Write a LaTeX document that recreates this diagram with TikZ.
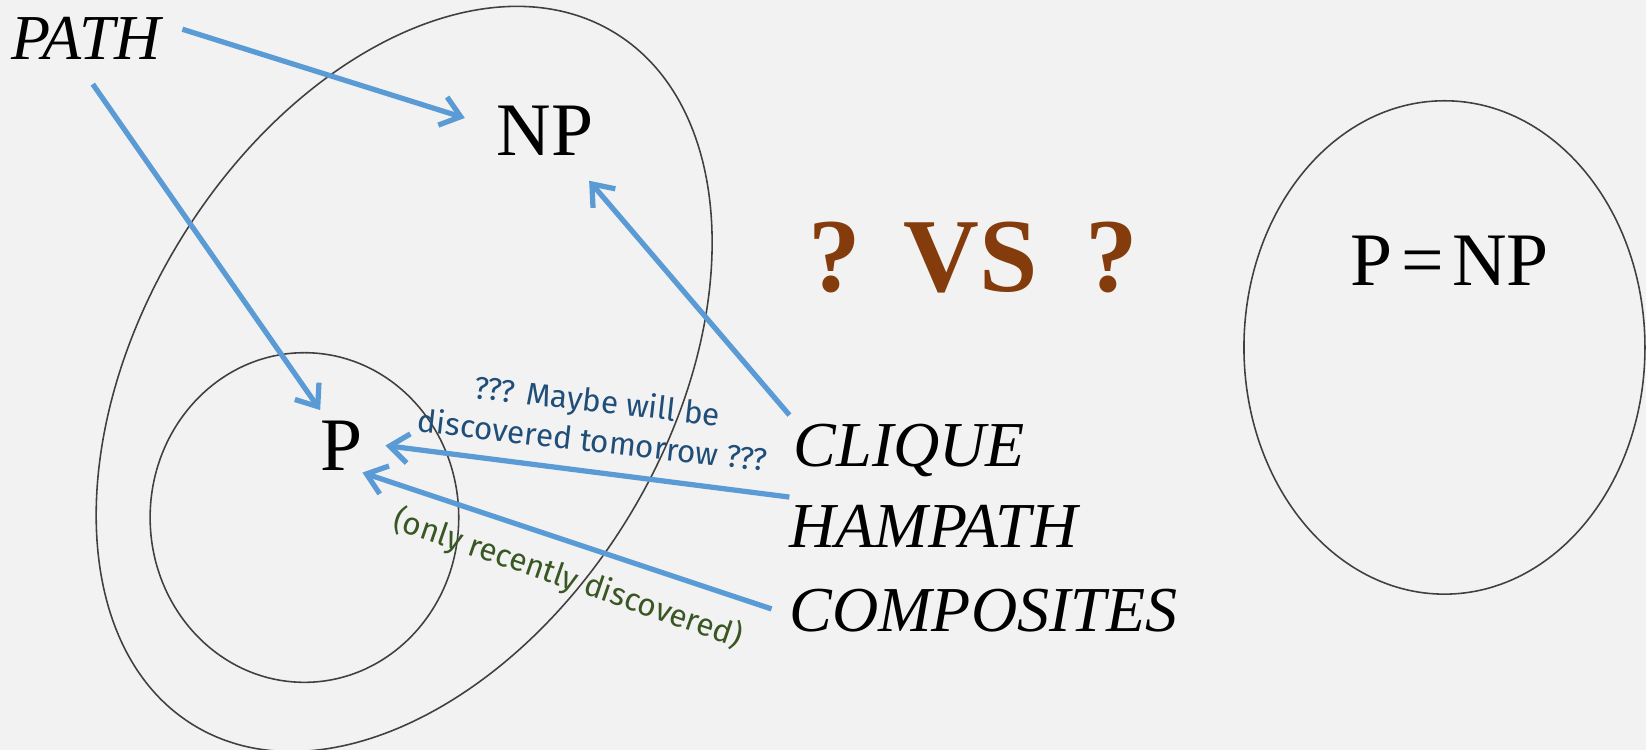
\documentclass[tikz,border=0pt]{standalone}
\usepackage{fontspec}
\setmainfont{Liberation Serif}
\newfontfamily\notefont{Fira Sans}
\usetikzlibrary{arrows.meta, calc}
\definecolor{bgcolor}{HTML}{F2F2F2}
\definecolor{arrowblue}{HTML}{5B9BD5}
\definecolor{setgray}{HTML}{404040}
\definecolor{noteblue}{HTML}{1F4E79}
\definecolor{notegreen}{HTML}{385723}
\definecolor{vsbrown}{HTML}{843C0C}

\begin{document}
\begin{tikzpicture}[x=1pt, y=1pt,
  word/.style={inner sep=0pt, font=\fontsize{61}{61}\selectfont\itshape},
  cls/.style={inner sep=0pt, font=\fontsize{72}{72}\selectfont},
  vsword/.style={inner sep=0pt, text=vsbrown, font=\fontsize{100}{100}\selectfont\bfseries},
  note/.style={inner sep=0pt, align=center, font=\notefont\fontsize{30}{38}\selectfont},
  arr/.style={-{Straight Barb[length=18pt, width=28pt]}, line width=5pt, color=arrowblue},
  set/.style={draw=setgray, line width=1.5pt}]
\fill[bgcolor] (0,0) rectangle (1568,714);
\useasboundingbox (0,0) rectangle (1568,714);
\draw[set, rotate around={58.8:(385,353)}] (385,353) ellipse [x radius=386, y radius=251];
\draw[set] (290,221) ellipse [x radius=147, y radius=157];
\draw[set] (1376,383) ellipse [x radius=191, y radius=235];
\node[word, anchor=base west] (path) at (11,657) {PATH};
\node[cls, anchor=base] (np) at (519,566) {NP};
\node[cls, anchor=base] (p) at (325,266) {P};
\node[word, anchor=base west] (clique) at (756,270) {CLIQUE};
\node[word, anchor=base west] (hampath) at (752,192) {HAMPATH};
\node[word, anchor=base west] (composites) at (752,112) {COMPOSITES};
\node[cls, anchor=base] (pnp) at (1381,442) {P\kern8pt=\kern8pt NP};
\node[vsword, anchor=base] (q1) at (795,436) {?};
\node[vsword, anchor=base] (vs) at (925,436) {VS};
\node[vsword, anchor=base] (q2) at (1059,436) {?};
\draw[arr] ([shift={(20,9)}]path.east) -- ([shift={(-30,12)}]np.west);
\draw[arr] ([shift={(6,-23)}]path.south) -- ([shift={(-20,10)}]p.north);
\draw[arr] ([shift={(-4,8)}]clique.north west) -- ([shift={(-4,-24)}]np.south east);
\draw[arr] ([shift={(0,8)}]hampath.north west) -- ([shift={(22,0)}]p.east);
\draw[arr] ([shift={(-17,2)}]composites.west) -- ([shift={(0,-2)}]p.south east);
\node[note, text=noteblue, rotate=-6.5] (maybe) at (567,314) {??? Maybe will be\\discovered tomorrow ???};
\node[note, text=notegreen, rotate=-19] (recent) at (541,163) {(only recently discovered)};
\end{tikzpicture}
\end{document}
